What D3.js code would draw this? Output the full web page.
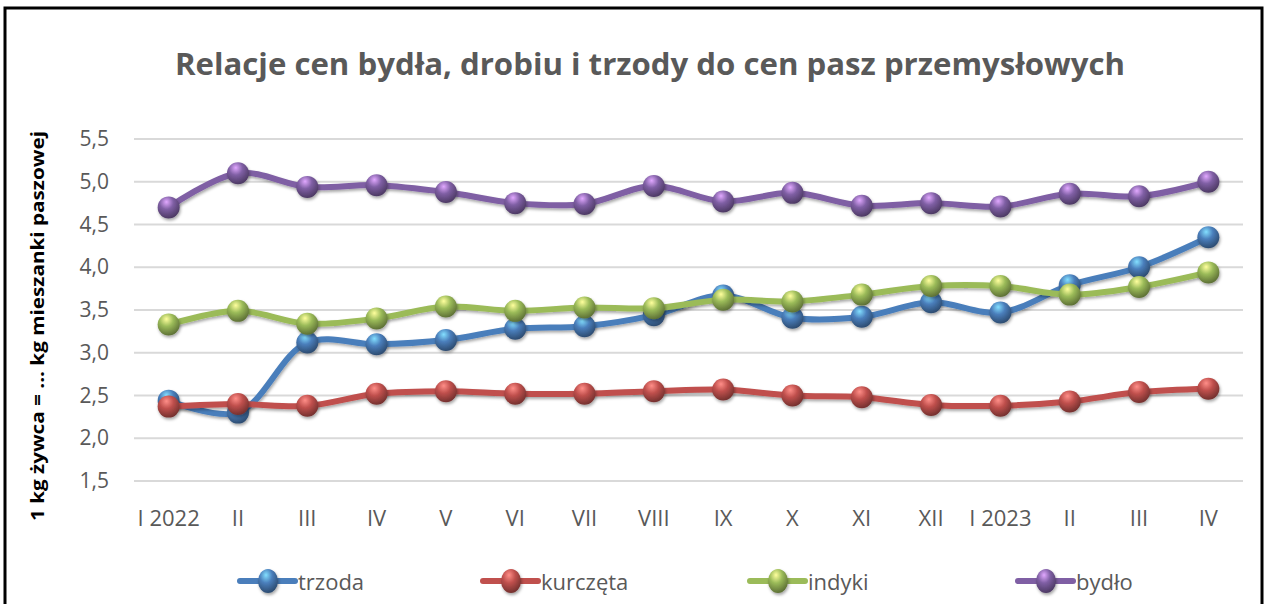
<!DOCTYPE html>
<html>
<head>
<meta charset="utf-8">
<script src="https://cdn.jsdelivr.net/npm/d3@7"></script>
<style>
  body { margin: 0; background: #fff; }
  svg text { font-family: "Open Sans", "Noto Sans", sans-serif; }
</style>
</head>
<body>
<div class="chart-container"></div>
<script>
// --- Data ---
const months = ["I 2022", "II", "III", "IV", "V", "VI", "VII", "VIII", "IX", "X", "XI", "XII", "I 2023", "II", "III", "IV"];
const trzoda   = [2.44, 2.30, 3.12, 3.10, 3.15, 3.28, 3.31, 3.44, 3.67, 3.41, 3.42, 3.59, 3.47, 3.79, 4.00, 4.35];
const kurczeta = [2.37, 2.40, 2.38, 2.52, 2.55, 2.52, 2.52, 2.55, 2.57, 2.50, 2.48, 2.39, 2.38, 2.43, 2.54, 2.58];
const indyki   = [3.33, 3.49, 3.34, 3.40, 3.54, 3.49, 3.53, 3.52, 3.62, 3.60, 3.68, 3.78, 3.78, 3.68, 3.77, 3.94];
const bydlo    = [4.70, 5.10, 4.94, 4.96, 4.88, 4.75, 4.74, 4.95, 4.77, 4.87, 4.72, 4.75, 4.71, 4.86, 4.83, 5.00];
const yTicks = [1.5, 2.0, 2.5, 3.0, 3.5, 4.0, 4.5, 5.0, 5.5];
const seriesNames = ["trzoda", "kurczęta", "indyki", "bydło"];
const seriesColors = ["#4a7ebb", "#c0504d", "#9bbb59", "#7f5fa4"];
const seriesData = [trzoda, kurczeta, indyki, bydlo];

// --- Layout ---
const w = 1268, h = 604;
const plot = { left: 134, right: 1243, top: 139, bottom: 481 };

const svg = d3.select(".chart-container").append("svg")
    .attr("width", w)
    .attr("height", h);

const defs = svg.append("defs");

// sphere gradients for markers
seriesColors.forEach(function (c, i) {
    const g = defs.append("radialGradient")
        .attr("id", "ball" + i)
        .attr("cx", "40%").attr("cy", "30%").attr("r", "70%")
        .attr("fx", "40%").attr("fy", "25%");
    g.append("stop").attr("offset", "0%").attr("stop-color", d3.color(c).brighter(1.6));
    g.append("stop").attr("offset", "45%").attr("stop-color", c);
    g.append("stop").attr("offset", "100%").attr("stop-color", d3.color(c).darker(1.4));
});
const shadow = defs.append("filter").attr("id", "shadow")
    .attr("x", "-50%").attr("y", "-50%").attr("width", "200%").attr("height", "200%");
shadow.append("feDropShadow")
    .attr("dx", 1).attr("dy", 2).attr("stdDeviation", 1.5)
    .attr("flood-color", "#000").attr("flood-opacity", 0.35);

// frame
svg.append("rect")
    .attr("x", 5).attr("y", 8)
    .attr("width", 1257).attr("height", 620)
    .attr("fill", "none")
    .attr("stroke", "#000")
    .attr("stroke-width", 3);

// scales
const xScale = d3.scaleBand()
    .domain(d3.range(months.length))
    .range([plot.left, plot.right]);

const yScale = d3.scaleLinear()
    .domain([1.5, 5.5])
    .range([plot.bottom, plot.top]);

const cx = function (i) { return xScale(i) + xScale.bandwidth() / 2; };

// gridlines
svg.append("g").selectAll("line")
    .data(yTicks)
    .enter()
    .append("line")
    .attr("x1", plot.left).attr("x2", plot.right)
    .attr("y1", function (d) { return yScale(d); })
    .attr("y2", function (d) { return yScale(d); })
    .attr("stroke", "#d9d9d9")
    .attr("stroke-width", 2);

// y tick labels
svg.append("g").selectAll("text")
    .data(yTicks)
    .enter()
    .append("text")
    .text(function (d) { return d.toFixed(1).replace(".", ","); })
    .attr("x", 109)
    .attr("y", function (d) { return yScale(d) + 7; })
    .attr("text-anchor", "end")
    .attr("font-size", "21px")
    .attr("fill", "#595959");

// x tick labels
svg.append("g").selectAll("text")
    .data(months)
    .enter()
    .append("text")
    .text(function (d) { return d; })
    .attr("x", function (d, i) { return cx(i); })
    .attr("y", 526)
    .attr("text-anchor", "middle")
    .attr("font-size", "22px")
    .attr("fill", "#595959");

// title
svg.append("text")
    .text("Relacje cen bydła, drobiu i trzody do cen pasz przemysłowych")
    .attr("x", 650).attr("y", 75)
    .attr("text-anchor", "middle")
    .attr("font-size", "30px")
    .attr("font-weight", "bold")
    .attr("fill", "#595959")
    .attr("textLength", 950)
    .attr("lengthAdjust", "spacingAndGlyphs");

// y axis title
svg.append("text")
    .text("1 kg żywca = ... kg mieszanki paszowej")
    .attr("transform", "translate(44,326) rotate(-90)")
    .attr("text-anchor", "middle")
    .attr("font-size", "17px")
    .attr("font-weight", "bold")
    .attr("fill", "#000")
    .attr("textLength", 390)
    .attr("lengthAdjust", "spacingAndGlyphs");

// lines
const line = d3.line()
    .x(function (d, i) { return cx(i); })
    .y(function (d) { return yScale(d); })
    .curve(d3.curveCatmullRom.alpha(0.5));

seriesData.forEach(function (data, s) {
    const g = svg.append("g");
    g.append("path")
        .datum(data)
        .attr("d", line)
        .attr("fill", "none")
        .attr("stroke", seriesColors[s])
        .attr("stroke-width", 6)
        .attr("stroke-linejoin", "round")
        .attr("filter", "url(#shadow)");
    g.selectAll("circle")
        .data(data)
        .enter()
        .append("circle")
        .attr("cx", function (d, i) { return cx(i); })
        .attr("cy", function (d) { return yScale(d); })
        .attr("r", 11)
        .attr("fill", "url(#ball" + s + ")")
        .attr("filter", "url(#shadow)");
});

// legend
const legendX = [240, 483, 750, 1018];
const legendY = 581;
const legend = svg.append("g").selectAll("g")
    .data(seriesNames)
    .enter()
    .append("g")
    .attr("transform", function (d, i) { return "translate(" + legendX[i] + "," + legendY + ")"; });

legend.append("line")
    .attr("x1", 0).attr("x2", 55)
    .attr("y1", 0).attr("y2", 0)
    .attr("stroke", function (d, i) { return seriesColors[i]; })
    .attr("stroke-width", 6)
    .attr("stroke-linecap", "round");
legend.append("ellipse")
    .attr("cx", 28).attr("cy", 0)
    .attr("rx", 10).attr("ry", 12)
    .attr("fill", function (d, i) { return "url(#ball" + i + ")"; })
    .attr("filter", "url(#shadow)");
legend.append("text")
    .text(function (d) { return d; })
    .attr("x", 58).attr("y", 9)
    .attr("font-size", "22px")
    .attr("fill", "#595959");
</script>
</body>
</html>
